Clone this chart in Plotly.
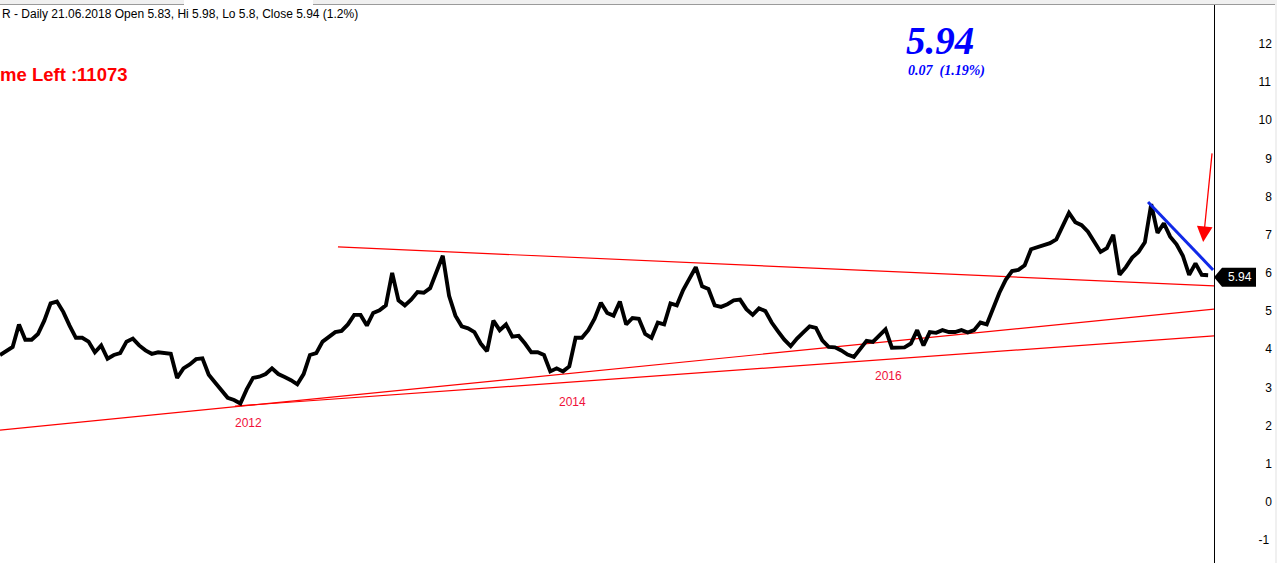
import pandas as pd
import plotly.graph_objects as go

# ---- data (bi-weekly closes ending 21.06.2018) ----
close = [
    3.85, 3.95, 4.06, 4.65, 4.25, 4.25, 4.40, 4.75, 5.20, 5.25,
    4.98, 4.62, 4.30, 4.30, 4.20, 3.92, 4.10, 3.75, 3.85, 3.90,
    4.20, 4.28, 4.10, 3.97, 3.88, 3.92, 3.90, 3.88, 3.25, 3.50,
    3.60, 3.74, 3.76, 3.33, 3.13, 2.92, 2.73, 2.67, 2.58, 2.95,
    3.25, 3.28, 3.35, 3.50, 3.35, 3.27, 3.19, 3.08, 3.35, 3.85,
    3.90, 4.20, 4.32, 4.45, 4.48, 4.65, 4.90, 4.90, 4.62, 4.95,
    5.02, 5.15, 6.00, 5.28, 5.15, 5.30, 5.50, 5.48, 5.60, 6.05,
    6.45, 5.40, 4.88, 4.60, 4.55, 4.45, 4.15, 3.95, 4.75, 4.50,
    4.65, 4.33, 4.35, 4.15, 3.92, 3.92, 3.85, 3.42, 3.50, 3.42,
    3.55, 4.30, 4.30, 4.50, 4.80, 5.22, 4.95, 4.88, 5.25, 4.65,
    4.82, 4.80, 4.40, 4.30, 4.70, 4.65, 5.20, 5.15, 5.55, 5.85,
    6.15, 5.65, 5.58, 5.15, 5.11, 5.18, 5.28, 5.30, 5.05, 4.90,
    5.07, 5.00, 4.70, 4.47, 4.25, 4.08, 4.28, 4.44, 4.60, 4.56,
    4.23, 4.06, 4.05, 3.97, 3.86, 3.80, 4.03, 4.22, 4.19, 4.35,
    4.52, 4.04, 4.05, 4.05, 4.15, 4.50, 4.10, 4.45, 4.43, 4.50,
    4.45, 4.45, 4.50, 4.44, 4.50, 4.70, 4.65, 5.10, 5.48, 5.82,
    6.05, 6.08, 6.20, 6.62, 6.67, 6.73, 6.78, 6.88, 7.20, 7.57,
    7.33, 7.25, 7.08, 6.80, 6.55, 6.65, 7.00, 5.95, 6.15, 6.40,
    6.55, 6.80, 7.80, 7.05, 7.30, 6.95, 6.75, 6.45, 5.95, 6.25,
    5.95, 5.94,
]
last_date = "2018-06-21"
dates = pd.date_range(end=last_date, periods=len(close), freq="14D")

# trend lines (date, value) endpoints
res_line_x = ["2013-03-13", "2018-07-04"]
res_line_y = [6.68, 5.66]
sup1_x = ["2011-02-24", "2018-07-04"]
sup1_y = [1.88, 5.05]
sup2_x = ["2012-07-28", "2018-07-04"]
sup2_y = [2.51, 4.35]
down_x = ["2018-02-08", "2018-07-02"]
down_y = [7.86, 6.08]

year_labels = ["2012", "2014", "2016"]
year_dates = ["2012-08-28", "2014-08-15", "2016-07-13"]
year_vals = [2.07, 2.62, 3.30]

arrow_tail = ("2018-06-30", 9.17)
arrow_head = ("2018-06-10", 6.81)

y_ticks = list(range(-1, 13))
last_close = 5.94

SANS = "Liberation Sans, Arial, sans-serif"
SERIF = "Liberation Serif, Times New Roman, serif"

fig = go.Figure()
for xs, ys in [(res_line_x, res_line_y), (sup1_x, sup1_y), (sup2_x, sup2_y)]:
    fig.add_trace(go.Scatter(x=xs, y=ys, mode="lines",
                             line=dict(color="#ff0000", width=1.2),
                             hoverinfo="skip", showlegend=False))
fig.add_trace(go.Scatter(x=dates, y=close, mode="lines",
                         line=dict(color="black", width=3.9),
                         showlegend=False))
fig.add_trace(go.Scatter(x=down_x, y=down_y, mode="lines",
                         line=dict(color="#1029e8", width=3),
                         hoverinfo="skip", showlegend=False))

def tick_text(v):
    s = str(v)
    return s if len(s) >= 2 else "\u2007" + s

annotations = []
for t, d, v in zip(year_labels, year_dates, year_vals):
    annotations.append(dict(x=d, y=v, xref="x", yref="y", text=t, showarrow=False,
                            font=dict(family=SANS, size=12, color="#f0103a")))

annotations.append(dict(x=arrow_head[0], y=arrow_head[1], ax=arrow_tail[0], ay=arrow_tail[1],
                        xref="x", yref="y", axref="x", ayref="y", text="",
                        showarrow=True, arrowhead=2, arrowsize=2.4, arrowwidth=1.3,
                        arrowcolor="#ff0000"))

annotations.append(dict(x=0, y=1, xref="paper", yref="paper", xanchor="left", yanchor="top",
                        yshift=-5, showarrow=False,
                        text="R - Daily 21.06.2018 Open 5.83, Hi 5.98, Lo 5.8, Close 5.94 (1.2%)",
                        font=dict(family=SANS, size=12, color="black")))
annotations.append(dict(x=0, y=1 - 74 / 563, xref="paper", yref="paper", xanchor="left",
                        yanchor="middle", xshift=-2, showarrow=False, text="<b>me Left :11073</b>",
                        font=dict(family=SANS, size=18.5, color="#ff0000")))
annotations.append(dict(x=940 / 1214, y=1 - 41 / 563, xref="paper", yref="paper",
                        xanchor="center", yanchor="middle", showarrow=False,
                        text="<b><i>5.94</i></b>",
                        font=dict(family=SERIF, size=39, color="#0000ff")))
annotations.append(dict(x=906 / 1214, y=1 - 71 / 563, xref="paper", yref="paper",
                        xanchor="left", yanchor="middle", showarrow=False,
                        text="<b><i>0.07 \u00a0(1.19%)</i></b>",
                        font=dict(family=SERIF, size=14, color="#0000ff")))
annotations.append(dict(x=1, y=last_close, xref="paper", yref="y", xanchor="center",
                        yanchor="middle", xshift=26, yshift=-2, showarrow=False,
                        text=f"{last_close:.2f}",
                        font=dict(family=SANS, size=12, color="white")))

shapes = [
    # price tag on the axis
    dict(type="path", xref="paper", yref="y", xsizemode="pixel", ysizemode="pixel",
         xanchor=1, yanchor=last_close,
         path="M0,-2 L8,7.5 L42,7.5 L42,-11.5 L8,-11.5 Z",
         fillcolor="black", line=dict(width=0)),
    # window chrome: top strip
    dict(type="rect", xref="paper", yref="paper", xsizemode="pixel", ysizemode="pixel",
         xanchor=0, yanchor=1, x0=0, x1=1277, y0=-4, y1=0,
         fillcolor="#f0f0f0", line=dict(width=0)),
    dict(type="line", xref="paper", yref="paper", xsizemode="pixel", ysizemode="pixel",
         xanchor=0, yanchor=1, x0=0, x1=1277, y0=-4.5, y1=-4.5,
         line=dict(color="#9a9a9a", width=1)),
    dict(type="rect", xref="paper", yref="paper", xsizemode="pixel", ysizemode="pixel",
         xanchor=0, yanchor=1, x0=184, x1=313, y0=-5, y1=0,
         fillcolor="white", line=dict(width=0)),
    # right edge strip
    dict(type="rect", xref="paper", yref="paper", xsizemode="pixel",
         xanchor=1, x0=61, x1=64, y0=0, y1=1,
         fillcolor="#f0f0f0", line=dict(width=0)),
]

fig.update_layout(
    width=1277, height=563,
    margin=dict(l=0, r=63, t=0, b=0, autoexpand=False),
    paper_bgcolor="white", plot_bgcolor="white",
    showlegend=False,
    xaxis=dict(type="date", range=["2011-02-24", "2018-07-04"], visible=False,
               showgrid=False, zeroline=False),
    yaxis=dict(side="right", range=[-1.60, 13.15], tickvals=y_ticks,
               ticktext=[tick_text(v) for v in y_ticks],
               ticks="outside", ticklen=41, tickcolor="rgba(0,0,0,0)",
               showgrid=False, zeroline=False, showline=True,
               linecolor="black", linewidth=1.3,
               tickfont=dict(family=SANS, size=12, color="black")),
    annotations=annotations,
    shapes=shapes,
)

fig.write_html("out.html", config={"displayModeBar": False},
               post_script="document.body.style.margin='0px';"
                           "document.body.style.overflow='hidden';")
